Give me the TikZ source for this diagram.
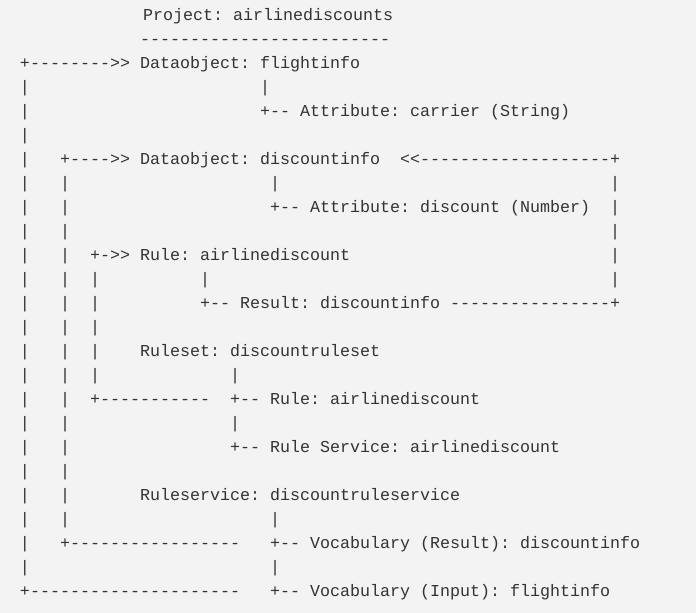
\documentclass[tikz,border=0pt]{standalone}
\usepackage{fontspec}
\setmonofont{Liberation Mono}
\definecolor{ink}{HTML}{333333}
\definecolor{paper}{HTML}{F2F3F2}

\begin{document}
\begin{tikzpicture}[x = 10pt, y = 24pt,
    every node/.style = { anchor = base west, inner sep = 0pt, outer sep = 0pt, text = ink,
      font = \ttfamily\fontsize{16.67}{20}\selectfont }]
  \fill [paper] (-2,0.8333) rectangle (67.6,-24.7083);
  \useasboundingbox (-2,0.8333) rectangle (67.6,-24.7083);

  % title
  \node (proj) at (12.3,0) {Project: airlinediscounts};
  \node (projline) at (12,-1) {-------------------------};

  % vertical bars
  \foreach \r in {3,...,23} \node (bara\r) at (0,-\r) {|};
  \foreach \r in {7,...,21} \node (barb\r) at (4,-\r) {|};
  \foreach \r in {11,...,15} \node (barc\r) at (7,-\r) {|};
  \foreach \r in {7,...,11} \node (bard\r) at (59,-\r) {|};

  % flightinfo
  \node (flight) at (0,-2) {+-------->> Dataobject: flightinfo};
  \node (flightbar) at (24,-3) {|};
  \node (carrier) at (24,-4) {+-- Attribute: carrier (String)};

  % discountinfo
  \node (discount) at (4,-6) {+---->> Dataobject: discountinfo};
  \node (discback) at (38,-6) {<<-------------------+};
  \node (discbar) at (25,-7) {|};
  \node (discattr) at (25,-8) {+-- Attribute: discount (Number)};

  % rule
  \node (rule) at (7,-10) {+->> Rule: airlinediscount};
  \node (rulebar) at (18,-11) {|};
  \node (result) at (18,-12) {+-- Result: discountinfo ----------------+};

  % ruleset
  \node (ruleset) at (12,-14) {Ruleset: discountruleset};
  \node (setbar) at (21,-15) {|};
  \node (setlink) at (7,-16) {+-----------};
  \node (setrule) at (21,-16) {+-- Rule: airlinediscount};
  \node (setbarb) at (21,-17) {|};
  \node (setservice) at (21,-18) {+-- Rule Service: airlinediscount};

  % ruleservice
  \node (service) at (12,-20) {Ruleservice: discountruleservice};
  \node (servbar) at (25,-21) {|};
  \node (reslink) at (4,-22) {+-----------------};
  \node (vocres) at (25,-22) {+-- Vocabulary (Result): discountinfo};
  \node (servbarb) at (25,-23) {|};
  \node (inlink) at (0,-24) {+---------------------};
  \node (vocin) at (25,-24) {+-- Vocabulary (Input): flightinfo};
\end{tikzpicture}
\end{document}
